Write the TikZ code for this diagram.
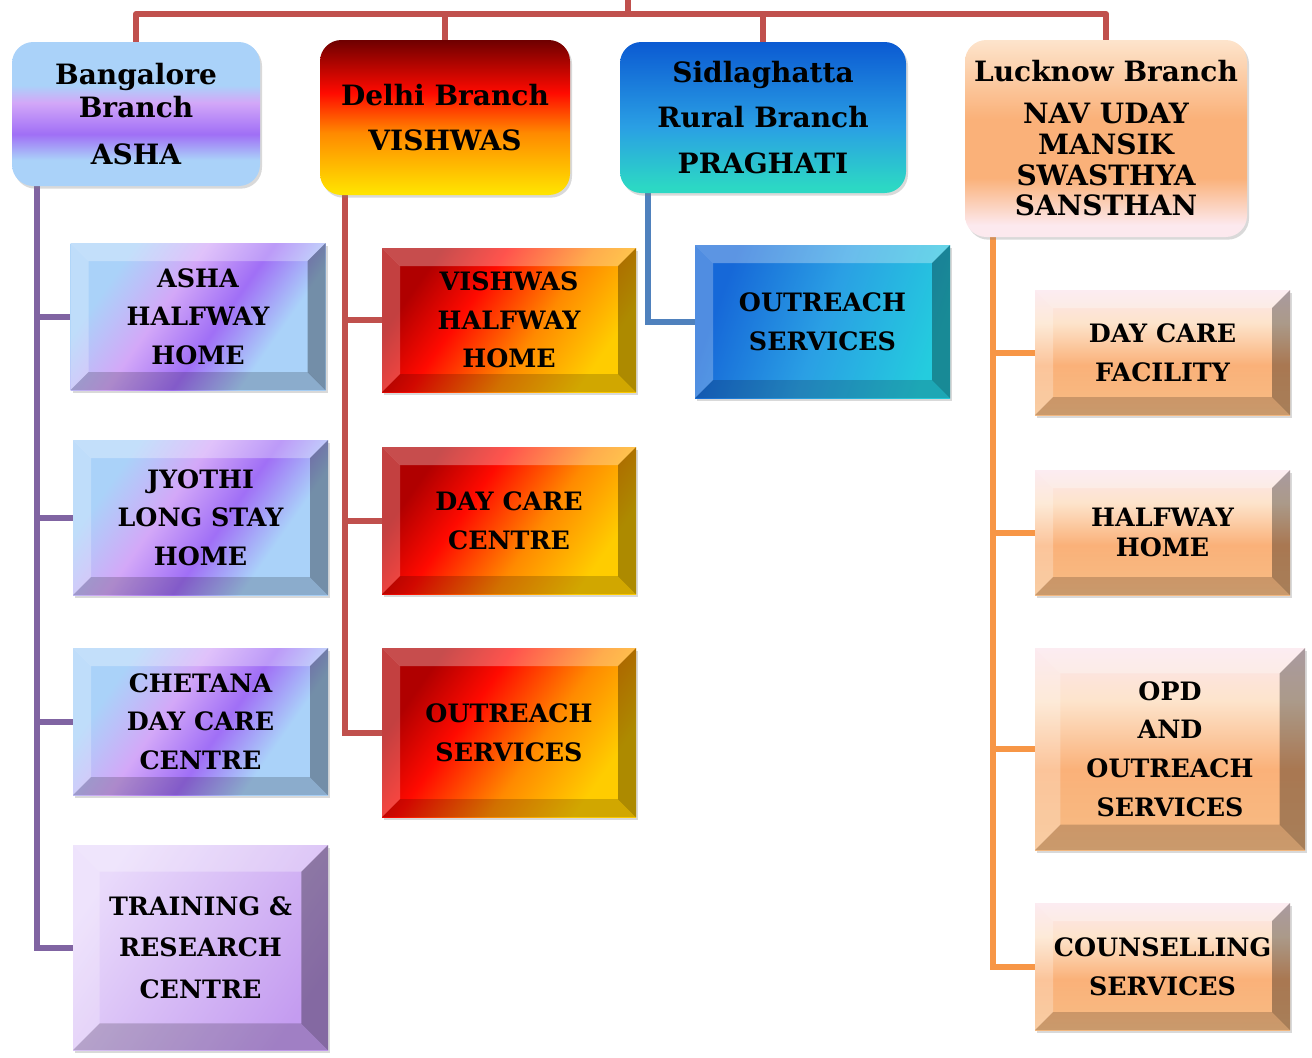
\documentclass[tikz,border=0pt]{standalone}
\usepackage{fontspec}
\setmainfont{DejaVu Serif}
\usepackage{tikz}
\usetikzlibrary{
    calc,
    shadows
}
\pgfdeclarelayer{background}
\pgfsetlayers{background,main}

\definecolor{ashaSky}{HTML}{AAD2F9}
\definecolor{ashaLilac}{HTML}{D3A8F8}
\definecolor{ashaViolet}{HTML}{A06FF6}
\definecolor{ashaPale}{HTML}{E9DAFB}
\definecolor{ashaMauve}{HTML}{C49CF0}
\definecolor{vishDark}{HTML}{6E0000}
\definecolor{vishDeep}{HTML}{B00000}
\definecolor{vishRed}{HTML}{FF0A00}
\definecolor{vishOrange}{HTML}{FF8A00}
\definecolor{vishYellow}{HTML}{FFE600}
\definecolor{vishGold}{HTML}{FFCC00}
\definecolor{pragDeep}{HTML}{0B5AD2}
\definecolor{pragSky}{HTML}{2A9FE4}
\definecolor{pragAqua}{HTML}{2CD8C4}
\definecolor{pragBlue}{HTML}{1668D8}
\definecolor{pragCyan}{HTML}{24CCDE}
\definecolor{navPeach}{HTML}{FDE4CC}
\definecolor{navOrange}{HTML}{FAB179}
\definecolor{navPink}{HTML}{FCE9EE}
\definecolor{navTan}{HTML}{F7BC84}
\definecolor{navBlush}{HTML}{FCE4EC}
\definecolor{lineRed}{HTML}{C0504D}
\definecolor{linePurple}{HTML}{8064A2}
\definecolor{lineBlue}{HTML}{4F81BD}
\definecolor{lineOrange}{HTML}{F79646}

% branch heads: stops run bottom (25bp) to top (75bp)
\pgfdeclareverticalshading{ashahead}{100bp}{color(0bp)=(ashaSky); color(34bp)=(ashaSky); color(43bp)=(ashaViolet); color(54bp)=(ashaLilac); color(60bp)=(ashaSky); color(100bp)=(ashaSky)}
\pgfdeclareverticalshading{vishhead}{100bp}{color(0bp)=(vishYellow); color(25bp)=(vishYellow); color(45bp)=(vishOrange); color(58bp)=(vishRed); color(75bp)=(vishDark); color(100bp)=(vishDark)}
\pgfdeclareverticalshading{praghead}{100bp}{color(0bp)=(pragAqua); color(27bp)=(pragAqua); color(47bp)=(pragSky); color(75bp)=(pragDeep); color(100bp)=(pragDeep)}
\pgfdeclareverticalshading{navhead}{100bp}{color(0bp)=(navPink); color(28bp)=(navPink); color(40bp)=(navOrange); color(55bp)=(navOrange); color(75bp)=(navPeach); color(100bp)=(navPeach)}
% units
\pgfdeclarehorizontalshading{ashaunit}{100bp}{color(0bp)=(ashaSky); color(28bp)=(ashaSky); color(42bp)=(ashaLilac); color(55bp)=(ashaViolet); color(68bp)=(ashaSky); color(100bp)=(ashaSky)}
\pgfdeclarehorizontalshading{trainunit}{100bp}{color(0bp)=(ashaPale); color(25bp)=(ashaPale); color(75bp)=(ashaMauve); color(100bp)=(ashaMauve)}
\pgfdeclarehorizontalshading{vishunit}{100bp}{color(0bp)=(vishDeep); color(27bp)=(vishDeep); color(40bp)=(vishRed); color(57bp)=(vishOrange); color(73bp)=(vishGold); color(100bp)=(vishGold)}
\pgfdeclarehorizontalshading{pragunit}{100bp}{color(0bp)=(pragBlue); color(27bp)=(pragBlue); color(50bp)=(pragSky); color(75bp)=(pragCyan); color(100bp)=(pragCyan)}
\pgfdeclareverticalshading{navunit}{100bp}{color(0bp)=(navTan); color(25bp)=(navTan); color(45bp)=(navOrange); color(62bp)=(navPeach); color(75bp)=(navBlush); color(100bp)=(navBlush)}

\newcommand{\headfont}{\fontsize{21}{25}\selectfont\bfseries}
\newcommand{\unitfont}{\fontsize{19}{29}\selectfont\bfseries}

\tikzset{
    bevel/.store in=\bevsize,
    bevel=13.5pt,
    boxsize/.style 2 args={
        minimum width=#1*0.75pt,
        minimum height=#2*0.75pt
    },
    branchbox/.style={
        rectangle,
        rounded corners=16pt,
        align=center,
        inner sep=0pt,
        font=\headfont,
        drop shadow={shadow xshift=1.5pt, shadow yshift=-2pt, opacity=.3}
    },
    unitbox/.style={
        rectangle,
        align=center,
        inner sep=0pt,
        font=\unitfont,
        drop shadow={shadow xshift=1.5pt, shadow yshift=-2pt, opacity=.3},
        path picture={
            \path (path picture bounding box.south west) coordinate (sw)
                  (path picture bounding box.north east) coordinate (ne)
                  (path picture bounding box.north west) coordinate (nw)
                  (path picture bounding box.south east) coordinate (se);
            \path ($(sw)+(\bevsize,\bevsize)$) coordinate (isw)
                  ($(ne)+(-\bevsize,-\bevsize)$) coordinate (ine)
                  (isw -| ine) coordinate (ise)
                  (isw |- ine) coordinate (inw);
            \fill[white, opacity=.30] (nw) -- (ne) -- (ine) -- (inw) -- cycle;
            \fill[white, opacity=.25] (nw) -- (inw) -- (isw) -- (sw) -- cycle;
            \fill[black, opacity=.32] (ne) -- (se) -- (ise) -- (ine) -- cycle;
            \fill[black, opacity=.18] (sw) -- (isw) -- (ise) -- (se) -- cycle;
        }
    },
    link/.style={
        line width=4.5pt
    }
}

\begin{document}
\begin{tikzpicture}[x=0.75pt, y=-0.75pt]
\useasboundingbox (0,0) rectangle (1312,1057);

% branches
\node[branchbox, boxsize={248}{144}, shading=ashahead] (bang) at (136,114)
    {Bangalore\\Branch\\[10pt]ASHA};
\node[branchbox, boxsize={250}{155}, shading=vishhead] (delhi) at (445,117.5)
    {Delhi Branch\\[9pt]VISHWAS};
\node[branchbox, boxsize={286}{151}, shading=praghead, font=\fontsize{21}{34}\selectfont\bfseries] (sid) at (763,117.5)
    {Sidlaghatta\\Rural Branch\\PRAGHATI};
\node[branchbox, boxsize={282}{197}, shading=navhead, font=\fontsize{21}{23}\selectfont\bfseries] (luck) at (1106,138.5)
    {Lucknow Branch\\[8.5pt]NAV UDAY\\MANSIK\\SWASTHYA\\SANSTHAN};

% Bangalore units
\node[unitbox, boxsize={255}{147}, shading=ashaunit, shading angle=-35] (b1) at (198,316.5) {ASHA\\HALFWAY\\HOME};
\node[unitbox, boxsize={255}{155}, shading=ashaunit, shading angle=-35] (b2) at (200.5,517.5) {JYOTHI\\LONG STAY\\HOME};
\node[unitbox, boxsize={255}{147}, shading=ashaunit, shading angle=-35] (b3) at (200.5,721.5) {CHETANA\\DAY CARE\\CENTRE};
\node[unitbox, boxsize={255}{205}, shading=trainunit, shading angle=-35, bevel=20pt, font=\fontsize{19}{31}\selectfont\bfseries] (b4) at (200.5,947.5) {TRAINING \&\\RESEARCH\\CENTRE};

% Delhi units
\node[unitbox, boxsize={254}{144}, shading=vishunit, shading angle=-35] (d1) at (509,320) {VISHWAS\\HALFWAY\\HOME};
\node[unitbox, boxsize={254}{147}, shading=vishunit, shading angle=-35] (d2) at (509,520.5) {DAY CARE\\CENTRE};
\node[unitbox, boxsize={254}{169}, shading=vishunit, shading angle=-35] (d3) at (509,732.5) {OUTREACH\\SERVICES};

% Sidlaghatta unit
\node[unitbox, boxsize={255}{153}, shading=pragunit, shading angle=-20] (s1) at (822.5,321.5) {OUTREACH\\SERVICES};

% Lucknow units
\node[unitbox, boxsize={255}{125}, shading=navunit] (l1) at (1162.5,352.5) {DAY CARE\\FACILITY};
\node[unitbox, boxsize={255}{125}, shading=navunit, font=\fontsize{19}{22}\selectfont\bfseries] (l2) at (1162.5,532.5) {HALFWAY\\HOME};
\node[unitbox, boxsize={270}{202}, shading=navunit, bevel=19pt] (l3) at (1170,749) {OPD\\AND\\OUTREACH\\SERVICES};
\node[unitbox, boxsize={255}{127}, shading=navunit] (l4) at (1162.5,966.5) {COUNSELLING\\SERVICES};

\coordinate (root) at (628,0);
\coordinate (bus) at (628,14);
\coordinate (bangspine) at (37,180);
\coordinate (delhispine) at (345,190);
\coordinate (sidspine) at (648,188);
\coordinate (luckspine) at (993,230);

\begin{pgfonlayer}{background}
\draw[link, lineRed] (root) -- (bus);
\draw[link, lineRed, line join=round] (bang.north) |- (bus) -| (luck.north);
\draw[link, lineRed] (delhi.north) -- (delhi.north |- bus);
\draw[link, lineRed] (sid.north) -- (sid.north |- bus);

\draw[link, linePurple] (bangspine) |- (b4.west);
\foreach \unit in {b1,b2,b3}
    \draw[link, linePurple] (bangspine |- \unit.west) -- (\unit.west);
\draw[link, lineRed] (delhispine) |- (d3.west);
\foreach \unit in {d1,d2}
    \draw[link, lineRed] (delhispine |- \unit.west) -- (\unit.west);
\draw[link, lineBlue] (sidspine) |- (s1.west);
\draw[link, lineOrange] (luckspine) |- (l4.west);
\foreach \unit in {l1,l2,l3}
    \draw[link, lineOrange] (luckspine |- \unit.west) -- (\unit.west);
\end{pgfonlayer}
\end{tikzpicture}
\end{document}
